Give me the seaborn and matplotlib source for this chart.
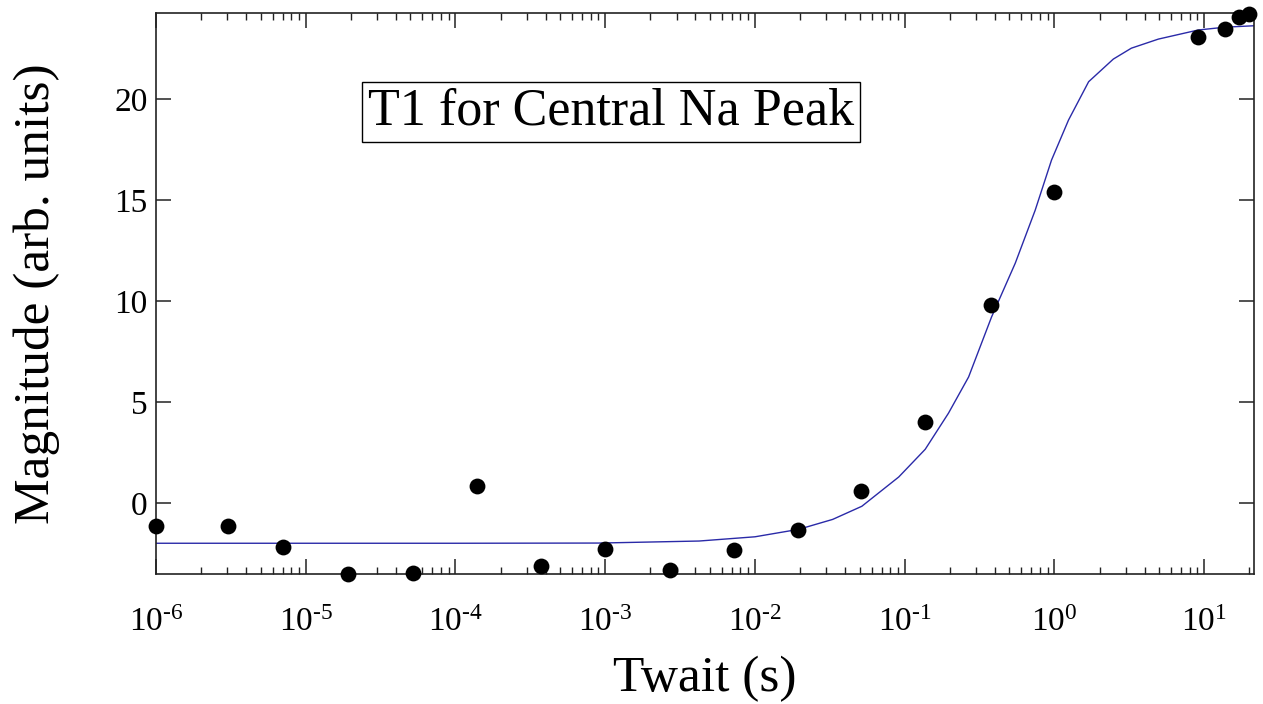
import numpy as np
import pandas as pd
import matplotlib
matplotlib.use("Agg")
import matplotlib.pyplot as plt
import seaborn as sns
from matplotlib.ticker import LogLocator, FixedLocator, NullLocator, FuncFormatter, NullFormatter

# ---- data ----
twait = [1.0e-6, 3.02e-6, 7.03e-6, 1.91e-5, 5.17e-5, 1.40e-4, 3.73e-4, 1.0e-3,
         2.71e-3, 7.24e-3, 1.94e-2, 5.14e-2, 0.137, 0.376, 1.0, 9.12, 13.7, 17.0, 19.9]
magnitude = [-1.14, -1.14, -2.18, -3.50, -3.45, 0.84, -3.12, -2.28,
             -3.32, -2.33, -1.34, 0.59, 4.02, 9.80, 15.41, 23.05, 23.47, 24.04, 24.21]

fit_t = [1.0e-6, 1.0e-4, 9.1e-4, 4.23e-3, 1.0e-2, 0.0196, 0.0330, 0.0517, 0.0912, 0.137,
         0.196, 0.267, 0.380, 0.547, 0.743, 0.955, 1.24, 1.69, 2.47, 3.26, 4.94,
         9.12, 13.8, 21.5]
fit_y = [-1.98, -1.98, -1.97, -1.87, -1.66, -1.29, -0.80, -0.15, 1.30, 2.67,
         4.46, 6.25, 9.22, 11.88, 14.50, 16.98, 18.96, 20.86, 21.98, 22.52, 22.97,
         23.42, 23.56, 23.63]

title_text = "T1 for Central Na Peak"
xlabel = "Twait (s)"
ylabel = "Magnitude (arb. units)"
xtick_exponents = [-6, -5, -4, -3, -2, -1, 0, 1]
yticks = [0, 5, 10, 15, 20]

# ---- styling ----
sns.set_style("ticks")
plt.rcParams["font.family"] = ["Liberation Serif", "DejaVu Serif"]
plt.rcParams["mathtext.fontset"] = "custom"
plt.rcParams["mathtext.rm"] = "Liberation Serif"
plt.rcParams["mathtext.it"] = "Liberation Serif:italic"
plt.rcParams["mathtext.bf"] = "Liberation Serif:bold"
plt.rcParams["text.color"] = "black"
plt.rcParams["axes.labelcolor"] = "black"

fig = plt.figure(figsize=(12.63, 7.04), dpi=100)
ax = fig.add_axes([0.1235, 0.1847, 0.8694, 0.7968])

pts = pd.DataFrame({"t": twait, "m": magnitude})
fit = pd.DataFrame({"t": fit_t, "m": fit_y})

sns.lineplot(data=fit, x="t", y="m", ax=ax, color="#2a2aa8", linewidth=1.0,
             sort=False, estimator=None, zorder=2)
sns.scatterplot(data=pts, x="t", y="m", ax=ax, color="black", s=130,
                edgecolor="black", linewidth=0, zorder=3, clip_on=False)

ax.set_xscale("log")
ax.set_xlim(1e-6, 21.5)
ax.set_ylim(-3.5, 24.26)


def fmt_pow(v, p):
    e = int(round(np.log10(v)))
    if e < 0:
        return "$10^{\u2010%d}$" % (-e)
    return "$10^{%d}$" % e


ax.xaxis.set_major_locator(FixedLocator([10.0 ** e for e in xtick_exponents]))
ax.xaxis.set_minor_locator(LogLocator(base=10, subs=np.arange(2, 10), numticks=20))
ax.xaxis.set_major_formatter(FuncFormatter(fmt_pow))
ax.xaxis.set_minor_formatter(NullFormatter())
ax.yaxis.set_major_locator(FixedLocator(yticks))
ax.yaxis.set_minor_locator(NullLocator())

ax.tick_params(which="both", direction="in", top=True, right=True, colors="#222222",
               labelcolor="black")
ax.tick_params(which="major", length=11, width=1.1, labelsize=24)
ax.tick_params(which="minor", length=5, width=1.0)
ax.tick_params(axis="x", which="major", pad=24)
ax.tick_params(axis="y", which="major", pad=6)

for s in ax.spines.values():
    s.set_linewidth(1.2)
    s.set_color("#222222")
    s.set_visible(True)

ax.set_xlabel(xlabel, fontsize=37)
ax.set_ylabel(ylabel, fontsize=37)
ax.xaxis.set_label_coords(0.5, -0.145)
ax.yaxis.set_label_coords(-0.087, 0.5)

ax.text(0.193, 0.824, title_text, transform=ax.transAxes, fontsize=37.5,
        ha="left", va="center",
        bbox=dict(boxstyle="square,pad=0.12", facecolor="white", edgecolor="black", linewidth=1.0))

fig.savefig("out.png", dpi=100, facecolor="white")
